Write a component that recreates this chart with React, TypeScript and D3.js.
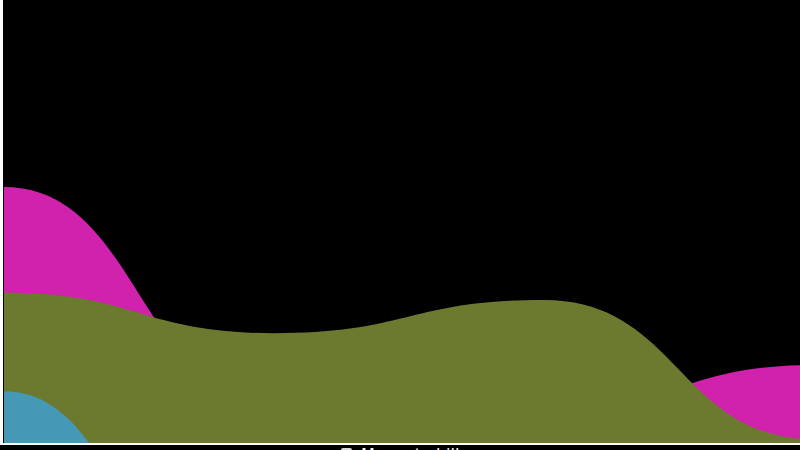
import React, { useEffect, useRef } from 'react';
import * as d3 from 'd3';

// x positions (no tick labels are drawn)
const periods = ['P1', 'P2', 'P3', 'P4'];

const seriesNames = ['Magenta hill', 'Olive ridge', 'Teal basin'];
const seriesColors = ['#D022AC', '#6B7A2F', '#4598B6'];

const magentaValues = [57.8, 9.5, 7.4, 17.6];
const oliveValues = [33.9, 24.8, 32.3, 0.9];
const tealValues = [11.7, -53.7, -40, -30];

const allValues = [magentaValues, oliveValues, tealValues];

const App: React.FC = () => {
  const svgRef = useRef<SVGSVGElement>(null);

  useEffect(() => {
    if (!svgRef.current) return;
    d3.select(svgRef.current).selectAll('*').remove();

    const width = 820;
    const height = 470;
    const plot = { left: 4, right: 814, top: 0, bottom: 443 };

    const svg = d3
      .select(svgRef.current)
      .attr('width', width)
      .attr('height', height);

    svg
      .append('rect')
      .attr('width', width)
      .attr('height', height)
      .attr('fill', '#000');

    const xScale = d3
      .scalePoint<string>()
      .domain(periods)
      .range([plot.left, plot.right]);

    const yScale = d3
      .scaleLinear()
      .domain([0, 100])
      .range([plot.bottom, plot.top]);

    svg
      .append('defs')
      .append('clipPath')
      .attr('id', 'plot-clip')
      .append('rect')
      .attr('x', plot.left)
      .attr('y', plot.top)
      .attr('width', plot.right - plot.left + 10)
      .attr('height', plot.bottom - plot.top);

    const area = d3
      .area<number>()
      .x((_, i) => xScale(periods[i]) as number)
      .y0(yScale(0))
      .y1(d => yScale(d))
      .curve(d3.curveBumpX);

    const g = svg.append('g').attr('clip-path', 'url(#plot-clip)');

    allValues.forEach((vals, i) => {
      g.append('path')
        .datum(vals)
        .attr('fill', seriesColors[i])
        .attr('d', area);
    });

    // axis lines
    svg
      .append('line')
      .attr('x1', 1.5)
      .attr('x2', 1.5)
      .attr('y1', 0)
      .attr('y2', plot.bottom + 2)
      .attr('stroke', '#fff')
      .attr('stroke-width', 3);

    svg
      .append('line')
      .attr('x1', 0)
      .attr('x2', width)
      .attr('y1', plot.bottom + 1)
      .attr('y2', plot.bottom + 1)
      .attr('stroke', '#fff')
      .attr('stroke-width', 2);

    // legend, one item per row (only the top of the first row is in view)
    const legend = svg.append('g').attr('transform', 'translate(341,448)');
    seriesNames.forEach((name, i) => {
      const item = legend.append('g').attr('transform', `translate(0,${i * 22})`);
      item
        .append('rect')
        .attr('width', 11)
        .attr('height', 11)
        .attr('rx', 2)
        .attr('fill', '#d9d9d9');
      item
        .append('text')
        .attr('x', 20)
        .attr('y', 12)
        .attr('fill', '#fff')
        .attr('font-family', 'DejaVu Sans, sans-serif')
        .attr('font-size', 16)
        .text(name);
    });
  }, []);

  return (
    <div
      style={{
        position: 'fixed',
        left: 0,
        top: 0,
        width: 800,
        height: 450,
        overflow: 'hidden',
        background: '#000'
      }}
    >
      <svg ref={svgRef} style={{ display: 'block' }} />
    </div>
  );
};

export default App;
